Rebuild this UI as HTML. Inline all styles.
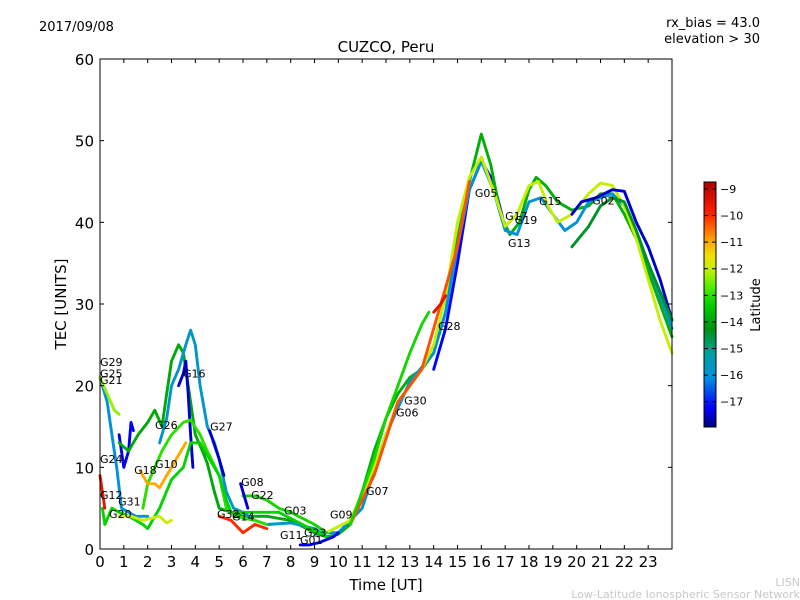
<!DOCTYPE html>
<html><head><meta charset="utf-8"><style>
body{margin:0;background:#fff;}
svg{display:block;font-family:"DejaVu Sans","Liberation Sans",sans-serif;}
</style></head><body>
<svg id="chart" width="800" height="600" viewBox="0 0 800 600" xmlns="http://www.w3.org/2000/svg">
<rect width="800" height="600" fill="#fff"/>
<text x="39" y="31" font-size="13">2017/09/08</text>
<text x="760" y="27" font-size="13" text-anchor="end">rx_bias = 43.0</text>
<text x="760" y="43" font-size="13" text-anchor="end">elevation &gt; 30</text>
<text x="386" y="52" font-size="15" text-anchor="middle">CUZCO, Peru</text>
<g id="marks"></g>
<g id="axes"></g>
<text x="386" y="590" font-size="15" text-anchor="middle">Time [UT]</text>
<text transform="translate(66,304) rotate(-90)" font-size="15" text-anchor="middle">TEC [UNITS]</text>
<g id="cbar"></g>
<text transform="translate(760,305) rotate(-90)" font-size="13" text-anchor="middle">Latitude</text>
<text x="800" y="586" font-size="11" fill="#c8c8c8" text-anchor="end">LISN</text>
<text x="800" y="598" font-size="11" fill="#c8c8c8" text-anchor="end">Low-Latitude Ionospheric Sensor Network</text>
</svg>
<script>
const xTicks=[0,1,2,3,4,5,6,7,8,9,10,11,12,13,14,15,16,17,18,19,20,21,22,23];
const yTicks=[0,10,20,30,40,50,60];
const cbTicks=[-9,-10,-11,-12,-13,-14,-15,-16,-17];
const seriesNames=["G05","peakGreen","cyan","yellow","redOrange","eveBlue","eveDkGreen","G29","G21","blueDot","G26","G16","G16dot","G18","lowGreen","orangeG10","G20","G12","G22","G27","G08","G01","G33","riseGreen","G28"];
const seriesLat=[-17.2,-13.8,-16,-12,-10.3,-17.5,-14.4,-16.1,-12.3,-17.3,-13.9,-15.8,-17.5,-13,-13.3,-11,-11.9,-9.6,-13.2,-17.5,-17.5,-17.3,-10,-13.2,-9.5];
const seriesT=[
[14,14.5,15,15.5,16,16.5,16.9],
[9.5,10,10.5,11,11.5,12,12.5,13,13.5,14,14.5,15,15.5,16,16.4,16.8,17.2,17.6,18,18.3,18.7,19.2,19.8,20.5,21,21.5,22,22.5,23,23.5,24],
[9,10,11,12,13,14,14.5,15,15.5,16,16.5,17,17.5,18,18.5,19,19.5,20,20.5,21,21.5,22,22.5,23,23.5,24],
[9.5,10.5,11.5,12.5,13.5,14,14.5,15,15.5,16,16.5,17,17.5,18,18.4,18.8,19.2,19.8,20.5,21,21.5,22,22.5,23,23.5,24],
[10.5,11.5,12.5,13.5,14,14.3,15,15.5],
[19.8,20.2,20.8,21.5,22,22.5,23,23.5,24],
[19.8,20.5,21,21.5,22,22.5,23,24],
[0,0.3,0.5,0.7,0.9,1.2,1.5,2],
[0,0.3,0.6,0.8],
[0.8,1,1.2,1.3,1.4],
[0.8,1.2,1.6,2,2.3,2.6,2.8,3,3.3,3.5,3.8,4,4.3,4.5,4.8,5,5.5,6,7,8,9,9.5],
[2.5,2.8,3,3.3,3.6,3.8,4,4.2,4.5,4.8,5,5.3,5.6,6,6.5,7,8,9,9.5],
[3.3,3.5,3.6,3.7,3.8,3.9],
[1.8,2,2.3,2.6,3,3.5,3.8,4.2,4.5,5,5.3,5.7,6.5,7],
[0.1,0.2,0.5,0.8,1.2,1.8,2,2.5,3,3.5,3.8,4.2,4.6,5,5.3,5.5,6.5,7.5,8.5,9.5],
[1.7,2,2.3,2.5,2.8,3,3.4,3.6],
[0.8,1.3,1.8,2.5,2.8,3],
[0,0.1,0.2],
[6,6.5,7,7.5,8,9,9.5],
[4.6,5,5.2],
[5.9,6.1,6.2],
[8.4,8.8,9.2,9.8,10],
[5,5.5,6,6.5,7],
[10.5,11,11.5,12,12.5,13,13.5,13.8],
[14,14.3,14.5]];
const seriesV=[
[22,27,35,44,47.5,45,40.5],
[1.5,1.8,3,7,12,16,19,21,22,24,29,38,45,50.8,47,41,38.5,40,44,45.5,44.5,42.5,41.5,42,43.5,43.5,41,38,34,30,26],
[2,2,5,14,20.5,24,29,37,44,47.5,44,39,38.5,42.5,43,41,39,40,42.5,43,43.5,42,38.5,35,31,27],
[2,3.5,10,18,22,25,31,40,45.5,48,44,39.5,41,44.5,45,42,40,41,43.5,44.8,44.5,42,38,33,28,24],
[3,9,18,22,27,30,37,45],
[41,42.5,43,44,43.8,40,37,33,28],
[37,39.5,42,43,42.5,39,35,28],
[21,18,14,10,5,4.5,4,4],
[21,19,17,16.5],
[14,10,12,15.5,14.5],
[13,12,14,15.5,17,15,19,23,25,24,18,14,12,10.5,7,5,4.5,4,4,3.5,2,1.5],
[13,16,20,22,25,26.8,25,20,15,13,11,7,5,4.5,3.5,3,3.2,2.5,1.5],
[20,21.5,23,19,14,10],
[5,8,10,12,14,15.5,15.8,14,12,9,5,4,3.5,3],
[5,3,5,4.5,4,3,2.5,5,8.5,10,13,13,11,9,6,4.5,4.5,4.5,3,1.5],
[9.5,8,8,7.5,9,10,12,13],
[4,4,3.5,4,3.2,3.5],
[9,7,5],
[6.5,6.5,6,5,4.5,3,2],
[14.5,11,9],
[8,6,5],
[0.5,0.5,0.8,1.5,2],
[4,3.5,2,3,2.5],
[3,7,11,16,20,24,27.5,29],
[29,30,31]];
const labelNames=["G29","G25","G21","G16","G26","G27","G24","G18","G10","G12","G31","G20","G08","G22","G32","G14","G03","G09","G23","G11","G01","G07","G30","G06","G28","G05","G17","G19","G13","G15","G02"];
const labelT=[0,0,0,3.48,2.31,4.62,0,1.43,2.31,0,0.76,0.38,5.92,6.34,4.91,5.54,7.72,9.65,8.56,7.55,8.39,11.16,12.76,12.42,14.18,15.73,17.0,17.4,17.12,18.42,20.65];
const labelV=[22.9,21.5,20.7,21.5,15.2,15.0,11.0,9.7,10.4,6.6,5.8,4.3,8.2,6.6,4.3,4.0,4.7,4.2,2.0,1.7,1.1,7.1,18.2,16.7,27.3,43.6,40.8,40.3,37.5,42.6,42.7];

const X0=100,X1=672,Y0=549,Y1=59;
const xs=t=>X0+t*(X1-X0)/24;
const ys=v=>Y0-v*(Y0-Y1)/60;
const CB_TOP=182,CB_BOT=427,LAT_TOP=-8.74,LAT_BOT=-17.95;
const cbY=l=>CB_TOP+(LAT_TOP-l)*(CB_BOT-CB_TOP)/(LAT_TOP-LAT_BOT);
const stops=[[0,[0,0,128]],[0.08,[0,0,255]],[0.2,[0,144,224]],[0.3,[0,160,160]],[0.4,[0,144,16]],[0.5,[0,208,0]],[0.58,[96,240,0]],[0.64,[192,240,0]],[0.7,[240,224,0]],[0.77,[255,153,0]],[0.87,[255,32,0]],[1,[176,0,0]]];
function cmap(f){f=Math.max(0,Math.min(1,f));for(let i=1;i<stops.length;i++){if(f<=stops[i][0]){const a=stops[i-1],b=stops[i],k=(f-a[0])/(b[0]-a[0]);const c=a[1].map((x,j)=>Math.round(x+(b[1][j]-x)*k));return `rgb(${c[0]},${c[1]},${c[2]})`;}}return "rgb(176,0,0)";}
const latF=l=>(l-LAT_BOT)/(LAT_TOP-LAT_BOT);
const NS="http://www.w3.org/2000/svg";
function mk(tag,attrs,parent){const e=document.createElementNS(NS,tag);for(const k in attrs)e.setAttribute(k,attrs[k]);parent.appendChild(e);return e;}
const marks=document.getElementById('marks');
for(let i=0;i<seriesNames.length;i++){
  const d=seriesT[i].map((t,j)=>(j?'L':'M')+xs(t).toFixed(1)+' '+ys(seriesV[i][j]).toFixed(1)).join(' ');
  const p=mk('path',{d:d,fill:'none',stroke:cmap(latF(seriesLat[i])),'stroke-width':2.9,'stroke-linejoin':'round','stroke-linecap':'round'},marks);
  
  
}
for(let i=0;i<labelNames.length;i++){
  const t=mk('text',{x:xs(labelT[i]),y:ys(labelV[i])+4,'font-size':11},marks);
  t.textContent=labelNames[i];
  
  
}
const axes=document.getElementById('axes');
const fr=mk('rect',{x:X0,y:Y1,width:X1-X0,height:Y0-Y1,fill:'none',stroke:'#000','stroke-width':1},axes);


xTicks.forEach(t=>{
  const x=xs(t);
  mk('line',{x1:x,x2:x,y1:Y0,y2:Y0-4,stroke:'#000'},axes);
  mk('line',{x1:x,x2:x,y1:Y1,y2:Y1+4,stroke:'#000'},axes);
  const tx=mk('text',{x:x,y:Y0+18,'font-size':15,'text-anchor':'middle'},axes);
  tx.textContent=t;
  
  
});
yTicks.forEach(v=>{
  const y=ys(v);
  mk('line',{x1:X0,x2:X0+4,y1:y,y2:y,stroke:'#000'},axes);
  mk('line',{x1:X1,x2:X1-4,y1:y,y2:y,stroke:'#000'},axes);
  const tx=mk('text',{x:X0-6,y:y+6,'font-size':15,'text-anchor':'end'},axes);
  tx.textContent=v;
  
  
});
const cb=document.getElementById('cbar');
const defs=mk('defs',{},cb);
const g=mk('linearGradient',{id:'jet',x1:0,y1:1,x2:0,y2:0},defs);
stops.forEach(s=>mk('stop',{offset:s[0],'stop-color':`rgb(${s[1].join(',')})`},g));
const cr=mk('rect',{x:704,y:CB_TOP,width:12,height:CB_BOT-CB_TOP,fill:'url(#jet)',stroke:'#000','stroke-width':1},cb);


cbTicks.forEach(l=>{
  const y=cbY(l);
  mk('line',{x1:704,x2:708,y1:y,y2:y,stroke:'#000'},cb);
  mk('line',{x1:716,x2:712,y1:y,y2:y,stroke:'#000'},cb);
  const tx=mk('text',{x:720,y:y+4,'font-size':11},cb);
  tx.textContent='\u2212'+Math.abs(l);
  
  
});
</script>
</body></html>
